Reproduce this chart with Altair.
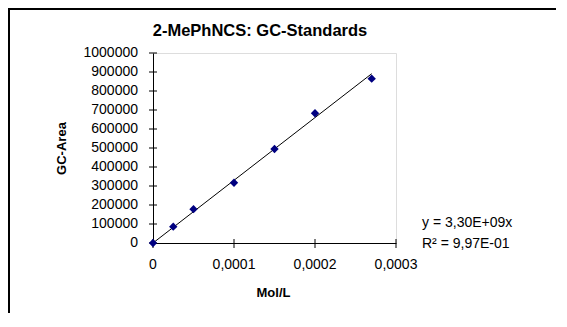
import altair as alt
import pandas as pd

# data
conc = [0.0, 0.000025, 0.00005, 0.0001, 0.00015, 0.0002, 0.00027]
area = [0, 86000, 178000, 317000, 495000, 683000, 865000]
trend_x = [0.0, 0.00027]
trend_y = [0, 891000]
eq_lines = ["y = 3,30E+09x", "R\u00b2 = 9,97E-01"]
title_text = "2-MePhNCS: GC-Standards"
y_ticks = [0, 100000, 200000, 300000, 400000, 500000, 600000, 700000, 800000, 900000, 1000000]
y_labels = ["0", "100000", "200000", "300000", "400000", "500000", "600000",
            "700000", "800000", "900000", "1000000"]
x_ticks = [0, 0.0001, 0.0002, 0.0003]
x_labels = ["0", "0,0001", "0,0002", "0,0003"]

FONT = "Liberation Sans"

pts = pd.DataFrame({"x": conc, "y": area})
trend = pd.DataFrame({"x": trend_x, "y": trend_y})
yt = pd.DataFrame({"v": y_ticks, "lab": y_labels})
xt = pd.DataFrame({"v": x_ticks, "lab": x_labels})

xscale = alt.Scale(domain=[0, 0.0003], nice=False, zero=True)
yscale = alt.Scale(domain=[0, 1000000], nice=False)

xaxis = alt.Axis(
    labels=False, ticks=False, grid=False, domainColor="black",
    title="Mol/L",
    titleFont=FONT, titleFontSize=13, titleFontWeight="bold", titleColor="black",
    titleX=120, titleY=49, titleBaseline="middle", titleAlign="center",
)
yaxis = alt.Axis(
    labels=False, ticks=False, grid=False, domainColor="black",
    title="GC-Area",
    titleFont=FONT, titleFontSize=13, titleFontWeight="bold", titleColor="black",
    titleX=-92, titleY=95, titleBaseline="middle", titleAlign="center", titleAngle=-90,
)

line = alt.Chart(trend).mark_line(color="black", strokeWidth=1).encode(
    x=alt.X("x:Q", scale=xscale, axis=xaxis),
    y=alt.Y("y:Q", scale=yscale, axis=yaxis),
)
points = alt.Chart(pts).mark_point(
    shape="diamond", filled=True, color="#000080", size=70, opacity=1
).encode(
    x=alt.X("x:Q", scale=xscale, axis=xaxis),
    y=alt.Y("y:Q", scale=yscale, axis=yaxis),
)

# cross ticks and labels of the y axis
ytick_marks = alt.Chart(yt).mark_rule(color="black", strokeWidth=1).encode(
    y=alt.Y("v:Q", scale=yscale, axis=yaxis), x=alt.value(-4), x2=alt.value(4)
)
ytick_labels = alt.Chart(yt).mark_text(
    align="right", baseline="middle", font=FONT, fontSize=14, color="black"
).encode(y=alt.Y("v:Q", scale=yscale, axis=yaxis), x=alt.value(-15), text="lab:N")

# cross ticks and labels of the x axis
xtick_marks = alt.Chart(xt).mark_rule(color="black", strokeWidth=1).encode(
    x=alt.X("v:Q", scale=xscale, axis=xaxis), y=alt.value(186), y2=alt.value(195)
)
xtick_labels = alt.Chart(xt).mark_text(
    align="center", baseline="middle", font=FONT, fontSize=14, color="black"
).encode(x=alt.X("v:Q", scale=xscale, axis=xaxis), y=alt.value(212), text="lab:N")

eq = pd.DataFrame({"t": ["\n".join(eq_lines)]})
eqtext = alt.Chart(eq).mark_text(
    align="left", baseline="middle", font=FONT, fontSize=14, color="black",
    lineBreak="\n", lineHeight=21,
).encode(x=alt.value(269), y=alt.value(170), text="t:N")

tt = pd.DataFrame({"t": [title_text]})
titletext = alt.Chart(tt).mark_text(
    align="center", baseline="alphabetic", font=FONT, fontSize=16.5, fontWeight="bold",
    color="black",
).encode(x=alt.value(107), y=alt.value(-17), text="t:N")

frame = pd.DataFrame({"a": [0]})
left_rule = alt.Chart(frame).mark_rule(color="black", strokeWidth=2).encode(
    x=alt.value(-144), y=alt.value(-44), y2=alt.value(300)
)
top_rule = alt.Chart(frame).mark_rule(color="black", strokeWidth=2).encode(
    x=alt.value(-145), x2=alt.value(420), y=alt.value(-44)
)

chart = alt.layer(
    line, ytick_marks, xtick_marks, ytick_labels, xtick_labels, points,
    eqtext, titletext, left_rule, top_rule
).properties(
    width=243, height=190,
    autosize=alt.AutoSizeParams(type="none"),
    padding={"left": 145, "top": 45, "right": 160, "bottom": 70},
).configure_view(stroke="#808080", strokeWidth=1).configure(background="white")

chart.save("out.html", embed_options={"renderer": "svg", "actions": False})
